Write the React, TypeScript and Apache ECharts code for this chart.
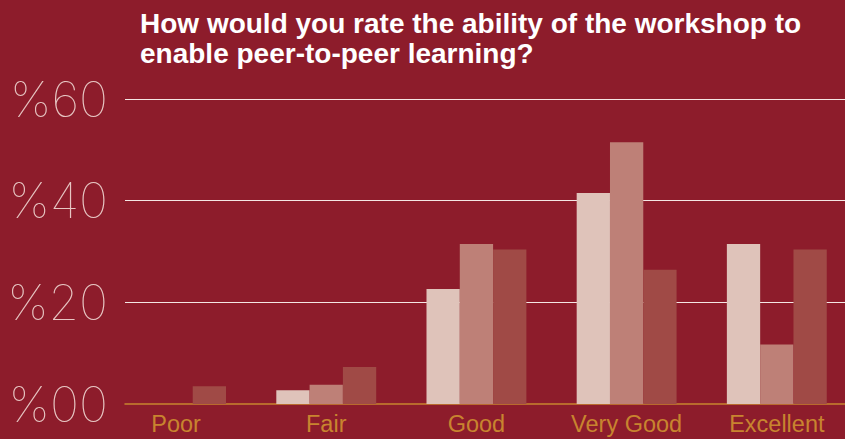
import React, { useEffect, useRef } from "react";
import * as echarts from "echarts";

const categories = ["Poor", "Fair", "Good", "Very Good", "Excellent"];
const seriesA = [0, 2.7, 22.6, 41.5, 31.5];
const seriesB = [0, 3.8, 31.5, 51.5, 11.7];
const seriesC = [3.5, 7.3, 30.4, 26.4, 30.4];
const yTicks = [0, 20, 40, 60];
const titleText = "How would you rate the ability of the workshop to\nenable peer-to-peer learning?";

const BG = "#8D1C2B";
const GOLD = "#C8842F";

export default function App() {
  const ref = useRef<HTMLDivElement>(null);
  useEffect(() => {
    if (!ref.current) return;
    const chart = echarts.init(ref.current, undefined, { renderer: "svg" });
    const yMin = yTicks[0];
    const yMax = yTicks[yTicks.length - 1];
    const idx = categories.map((_, i) => i);
    const mkBar = (name: string, data: number[], color: string) => ({
      type: "bar",
      name,
      data: data.map((v, i) => [i, v]),
      barWidth: 33.3,
      barGap: "0%",
      itemStyle: { color },
    });
    chart.setOption({
      animation: false,
      backgroundColor: BG,
      title: {
        text: titleText,
        left: 140,
        top: 8,
        padding: 0,
        textStyle: {
          color: "#FFFFFF",
          fontFamily: "Liberation Sans",
          fontWeight: "bold",
          fontSize: 28,
          lineHeight: 30,
        },
      },
      grid: { left: 125, right: 0, top: 99, bottom: 35 },
      xAxis: {
        type: "value",
        min: -0.34,
        max: 4.454,
        axisLine: { show: true, onZero: false, lineStyle: { color: GOLD, width: 1.5 } },
        axisTick: { show: false },
        splitLine: { show: false },
        axisLabel: {
          customValues: idx,
          color: GOLD,
          fontFamily: "Liberation Sans",
          fontSize: 23.5,
          margin: 8,
          formatter: (v: number) => categories[Math.round(v)] ?? "",
        },
      },
      yAxis: {
        type: "value",
        min: yMin,
        max: yMax,
        interval: 20,
        axisLine: { show: false },
        axisTick: { show: false },
        splitLine: {
          show: true,
          showMinLine: false,
          lineStyle: { color: "#F4E6E4", width: 1 },
        },
        axisLabel: {
          color: "#E7C6C3",
          fontFamily: "Inter",
          fontWeight: 100,
          fontSize: 49,
          margin: 17,
          formatter: (v: number) => "%" + String(v).padStart(2, "0"),
        },
      },
      series: [
        mkBar("A", seriesA, "#DFC3BA"),
        mkBar("B", seriesB, "#BE8077"),
        mkBar("C", seriesC, "#A04A46"),
      ],
    });
    return () => chart.dispose();
  }, []);
  return (
    <div
      ref={ref}
      style={{ position: "fixed", left: 0, top: 0, width: 845, height: 439 }}
    />
  );
}
